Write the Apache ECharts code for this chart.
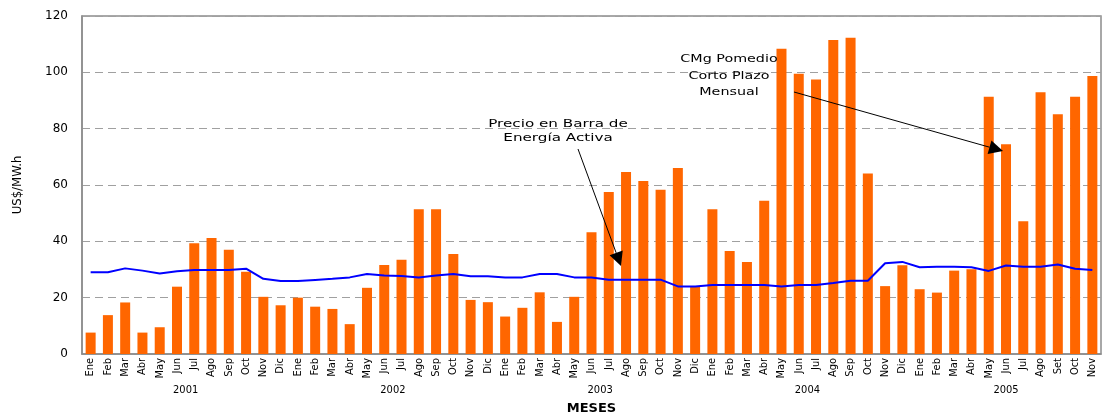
<!DOCTYPE html>
<html><head><meta charset="utf-8">
<script src="https://cdn.jsdelivr.net/npm/echarts@6/dist/echarts.min.js"></script>
<style>html,body{margin:0;padding:0;background:#fff}#c{width:1103px;height:412px}</style>
</head><body><div id="c"></div>
<script>
const months = ['Ene','Feb','Mar','Abr','May','Jun','Jul','Ago','Sep','Oct','Nov','Dic',
  'Ene','Feb','Mar','Abr','May','Jun','Jul','Ago','Sep','Oct','Nov','Dic',
  'Ene','Feb','Mar','Abr','May','Jun','Jul','Ago','Sep','Oct','Nov','Dic',
  'Ene','Feb','Mar','Abr','May','Jun','Jul','Ago','Sep','Oct','Nov','Dic',
  'Ene','Feb','Mar','Abr','May','Jun','Jul','Ago','Set','Oct','Nov'];
const yearOf = [2001,2001,2001,2001,2001,2001,2001,2001,2001,2001,2001,2001,
  2002,2002,2002,2002,2002,2002,2002,2002,2002,2002,2002,2002,
  2003,2003,2003,2003,2003,2003,2003,2003,2003,2003,2003,2003,
  2004,2004,2004,2004,2004,2004,2004,2004,2004,2004,2004,2004,
  2005,2005,2005,2005,2005,2005,2005,2005,2005,2005,2005];
const years = ['2001','2002','2003','2004','2005'];
const cmgValues = [7.6,13.8,18.3,7.6,9.5,23.9,39.3,41.2,37.0,29.2,20.3,17.3,
  20.0,16.8,16.0,10.6,23.5,31.6,33.5,51.4,51.4,35.5,19.2,18.4,
  13.3,16.4,21.9,11.4,20.3,43.2,57.5,64.6,61.4,58.3,66.0,23.9,
  51.4,36.6,32.7,54.4,108.4,99.5,97.5,111.5,112.3,64.1,24.1,31.5,
  23.0,21.8,29.6,30.1,91.3,74.5,47.1,92.9,85.1,91.3,98.7];
const precioValues = [29.0,29.0,30.4,29.6,28.6,29.4,29.8,29.8,29.8,30.3,26.7,25.9,
  25.9,26.3,26.7,27.2,28.4,27.9,27.7,27.2,27.9,28.4,27.6,27.6,
  27.2,27.2,28.4,28.4,27.2,27.2,26.4,26.4,26.4,26.4,24.0,24.0,
  24.5,24.5,24.5,24.5,24.0,24.5,24.5,25.2,26.0,26.0,32.2,32.7,
  30.8,31.0,31.0,30.8,29.5,31.4,31.0,31.0,31.8,30.3,29.8];
const yTicks = [0,20,40,60,80,100,120];

const chart = echarts.init(document.getElementById('c'), null, {renderer:'canvas'});
const font = 'DejaVu Sans, Verdana, sans-serif';
const narrow = 'Liberation Sans Narrow, DejaVu Sans Condensed, sans-serif';
chart.setOption({
  animation:false,
  backgroundColor:'#fff',
  grid:{left:82,right:2,top:16,bottom:58,containLabel:false,outerBoundsMode:'none',
    show:true,borderColor:'#8c8c8c',borderWidth:1.5},
  xAxis:{type:'category',data:months,
    axisLine:{lineStyle:{color:'#8c8c8c',width:1.5}},axisTick:{show:false},
    axisLabel:{rotate:90,interval:0,fontFamily:narrow,fontSize:11,color:'#000',margin:4},
    name:'MESES',nameLocation:'middle',nameGap:48,
    nameTextStyle:{fontFamily:font,fontWeight:'bold',fontSize:13,color:'#000'}},
  yAxis:{type:'value',min:yTicks[0],max:yTicks[yTicks.length-1],interval:20,
    axisLine:{show:true,lineStyle:{color:'#8c8c8c',width:1.5}},axisTick:{show:false},
    axisLabel:{fontFamily:font,fontSize:12,color:'#000',margin:14},
    splitLine:{lineStyle:{color:'#a0a0a0',type:[8,5],width:1}},
    name:'US$/MW.h',nameLocation:'middle',nameGap:58,
    nameTextStyle:{fontFamily:narrow,fontSize:13,color:'#000'}},
  series:[
    {type:'bar',name:'CMg Pomedio Corto Plazo Mensual',data:cmgValues,barWidth:10,
      itemStyle:{color:'#ff6600'},z:2},
    {type:'line',name:'Precio en Barra de Energía Activa',data:precioValues,symbol:'none',
      lineStyle:{color:'#0000ff',width:2},z:3}
  ]
});

function arrow(x1,y1,x2,y2){
  const ang=Math.atan2(y2-y1,x2-x1), L=14, W=7;
  const bx=x2-L*Math.cos(ang), by=y2-L*Math.sin(ang);
  const px=-Math.sin(ang), py=Math.cos(ang);
  return [
    {type:'line',shape:{x1:x1,y1:y1,x2:bx,y2:by},style:{stroke:'#000',lineWidth:1},z:10},
    {type:'polygon',shape:{points:[[x2,y2],[bx+W*px,by+W*py],[bx-W*px,by-W*py]]},style:{fill:'#000'},z:10}
  ];
}
const g=[];
years.forEach(y=>{
  const idx=[];yearOf.forEach((v,i)=>{if(String(v)===y)idx.push(i);});
  const a=chart.convertToPixel({xAxisIndex:0},idx[0]);
  const b=chart.convertToPixel({xAxisIndex:0},idx[idx.length-1]);
  g.push({type:'text',x:(a+b)/2,y:390,style:{text:y,fontFamily:narrow,fontSize:11,fill:'#000',align:'center',verticalAlign:'middle'}});
});
g.push({type:'text',x:558,y:131,scaleX:1.38,style:{text:'Precio en Barra de\nEnergía Activa',fontFamily:font,fontSize:11,lineHeight:14.5,fill:'#000',align:'center',verticalAlign:'middle'},z:10});
g.push({type:'text',x:729,y:76,scaleX:1.3,style:{text:'CMg Pomedio\nCorto Plazo\nMensual',fontFamily:font,fontSize:11,lineHeight:16.5,fill:'#000',align:'center',verticalAlign:'middle'},z:10});
arrow(578,149,621,266).forEach(e=>g.push(e));
arrow(794,92,1003,151).forEach(e=>g.push(e));
chart.setOption({graphic:g});
</script></body></html>
